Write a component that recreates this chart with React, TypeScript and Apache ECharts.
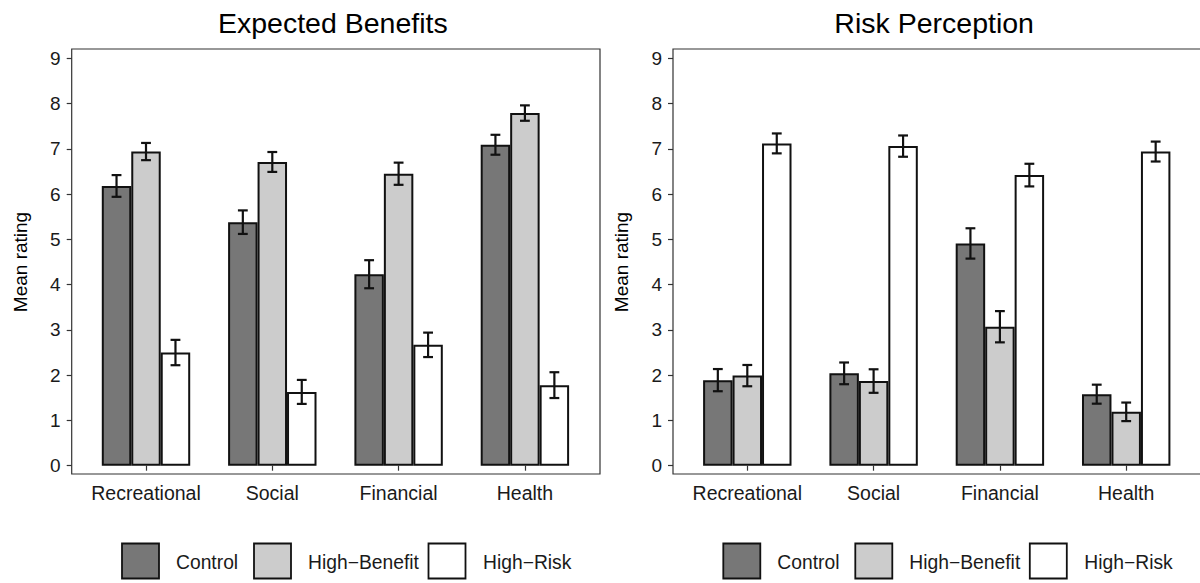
import React, { useEffect, useRef } from "react";
import * as echarts from "echarts";

const categories = ["Recreational", "Social", "Financial", "Health"];
const groupNames = ["Control", "High\u2212Benefit", "High\u2212Risk"];
const panelTitles = ["Expected Benefits", "Risk Perception"];
const yTicks = [0, 1, 2, 3, 4, 5, 6, 7, 8, 9];

// Expected Benefits panel
const benefitControl = [6.18, 5.38, 4.23, 7.09];
const benefitHighBenefit = [6.94, 6.71, 6.45, 7.79];
const benefitHighRisk = [2.5, 1.63, 2.67, 1.78];
const benefitControlErr = [0.24, 0.26, 0.31, 0.22];
const benefitHighBenefitErr = [0.19, 0.22, 0.245, 0.17];
const benefitHighRiskErr = [0.28, 0.265, 0.27, 0.285];

// Risk Perception panel
const riskControl = [1.89, 2.04, 4.91, 1.58];
const riskHighBenefit = [1.99, 1.87, 3.07, 1.19];
const riskHighRisk = [7.12, 7.06, 6.42, 6.94];
const riskControlErr = [0.245, 0.24, 0.335, 0.21];
const riskHighBenefitErr = [0.235, 0.26, 0.345, 0.205];
const riskHighRiskErr = [0.22, 0.235, 0.25, 0.22];

const fills = ["#777777", "#cccccc", "#ffffff"];
const FONT = "'Liberation Sans', Arial, sans-serif";

export default function App() {
  const ref = useRef<HTMLDivElement>(null);
  useEffect(() => {
    if (!ref.current) return;
    const chart = echarts.init(ref.current, null, { renderer: "svg" });
    const panels = [
      {
        vals: [benefitControl, benefitHighBenefit, benefitHighRisk],
        errs: [benefitControlErr, benefitHighBenefitErr, benefitHighRiskErr],
      },
      {
        vals: [riskControl, riskHighBenefit, riskHighRisk],
        errs: [riskControlErr, riskHighBenefitErr, riskHighRiskErr],
      },
    ];
    const offs = [0, 601.3];
    const boxL = 71.7, boxR = 600, boxT = 49, boxB = 474;
    const gridL = 82.85, gridW = 505.2, gridT = 58.3, gridH = 407.4;

    const grid: any[] = [];
    const xAxis: any[] = [];
    const yAxis: any[] = [];
    const series: any[] = [];
    const title: any[] = [];
    const graphic: any[] = [];

    panels.forEach((p, i) => {
      const off = offs[i];
      grid.push({ left: gridL + off, top: gridT, width: gridW, height: gridH, containLabel: false });
      title.push({
        text: panelTitles[i],
        left: (boxL + boxR) / 2 + off - 8,
        top: 3,
        textAlign: "center",
        textStyle: { fontFamily: FONT, fontSize: 28.5, fontWeight: "normal", color: "#000" },
      });
      xAxis.push({
        gridIndex: i,
        type: "category",
        data: categories,
        offset: boxB - (gridT + gridH),
        axisLine: { show: false },
        axisTick: { show: true, alignWithLabel: true, length: 5, lineStyle: { color: "#333", width: 1.2 } },
        axisLabel: { interval: 0, fontFamily: FONT, fontSize: 19.5, color: "#1a1a1a", margin: 9 },
        splitLine: { show: false },
      });
      yAxis.push({
        gridIndex: i,
        type: "value",
        min: yTicks[0],
        max: yTicks[yTicks.length - 1],
        interval: 1,
        offset: gridL - boxL,
        name: "Mean rating",
        nameLocation: "middle",
        nameGap: 42,
        nameRotate: 90,
        nameTextStyle: { fontFamily: FONT, fontSize: 19, color: "#000" },
        axisLine: { show: false },
        axisTick: { show: true, length: 5, lineStyle: { color: "#333", width: 1.2 } },
        axisLabel: { fontFamily: FONT, fontSize: 19, color: "#1a1a1a", margin: 11 },
        splitLine: { show: false },
      });
      p.vals.forEach((v, g) => {
        series.push({
          name: groupNames[g],
          type: "bar",
          xAxisIndex: i,
          yAxisIndex: i,
          data: v,
          barWidth: "23.333%",
          barGap: "0%",
          barCategoryGap: "30%",
          itemStyle: { color: fills[g], borderColor: "#111", borderWidth: 2 },
          z: 2,
        });
      });
      const errData: number[][] = [];
      p.vals.forEach((v, g) => {
        v.forEach((val, c) => {
          errData.push([c, g, val - p.errs[g][c], val + p.errs[g][c]]);
        });
      });
      series.push({
        type: "custom",
        xAxisIndex: i,
        yAxisIndex: i,
        data: errData,
        encode: { x: 0, y: [2, 3] },
        z: 5,
        renderItem: (params: any, api: any) => {
          const c = api.value(0);
          const g = api.value(1);
          const lo = api.coord([c, api.value(2)]);
          const hi = api.coord([c, api.value(3)]);
          const band = api.size([1, 0])[0];
          const bw = (band * 0.7) / 3;
          const x = lo[0] + (g - 1) * bw;
          const hc = bw / 6;
          const st = { stroke: "#111", lineWidth: 2.2 };
          return {
            type: "group",
            children: [
              { type: "line", shape: { x1: x, y1: lo[1], x2: x, y2: hi[1] }, style: st },
              { type: "line", shape: { x1: x - hc, y1: lo[1], x2: x + hc, y2: lo[1] }, style: st },
              { type: "line", shape: { x1: x - hc, y1: hi[1], x2: x + hc, y2: hi[1] }, style: st },
            ],
          };
        },
      });
      // panel box
      graphic.push({
        type: "rect",
        shape: { x: boxL + off, y: boxT, width: boxR - boxL, height: boxB - boxT },
        style: { fill: "none", stroke: "#333", lineWidth: 1.2 },
        z: 10,
        silent: true,
      });
      // legend
      const boxXs = [122, 254, 428.5];
      const textXs = [176, 308, 483];
      groupNames.forEach((n, g) => {
        graphic.push({
          type: "rect",
          shape: { x: boxXs[g] + off, y: 543.5, width: 37, height: 35 },
          style: { fill: fills[g], stroke: "#111", lineWidth: 1.8 },
        });
        graphic.push({
          type: "text",
          x: textXs[g] + off,
          y: 562.5,
          style: { text: n, fontFamily: FONT, fontSize: 19.3, fill: "#1a1a1a", verticalAlign: "middle", align: "left" },
        });
      });
    });

    chart.setOption({
      animation: false,
      backgroundColor: "#fff",
      title,
      grid,
      xAxis,
      yAxis,
      series,
      graphic,
    });
    return () => chart.dispose();
  }, []);
  return (
    <div
      ref={ref}
      style={{ position: "fixed", left: 0, top: 0, width: 1200, height: 583 }}
    />
  );
}
